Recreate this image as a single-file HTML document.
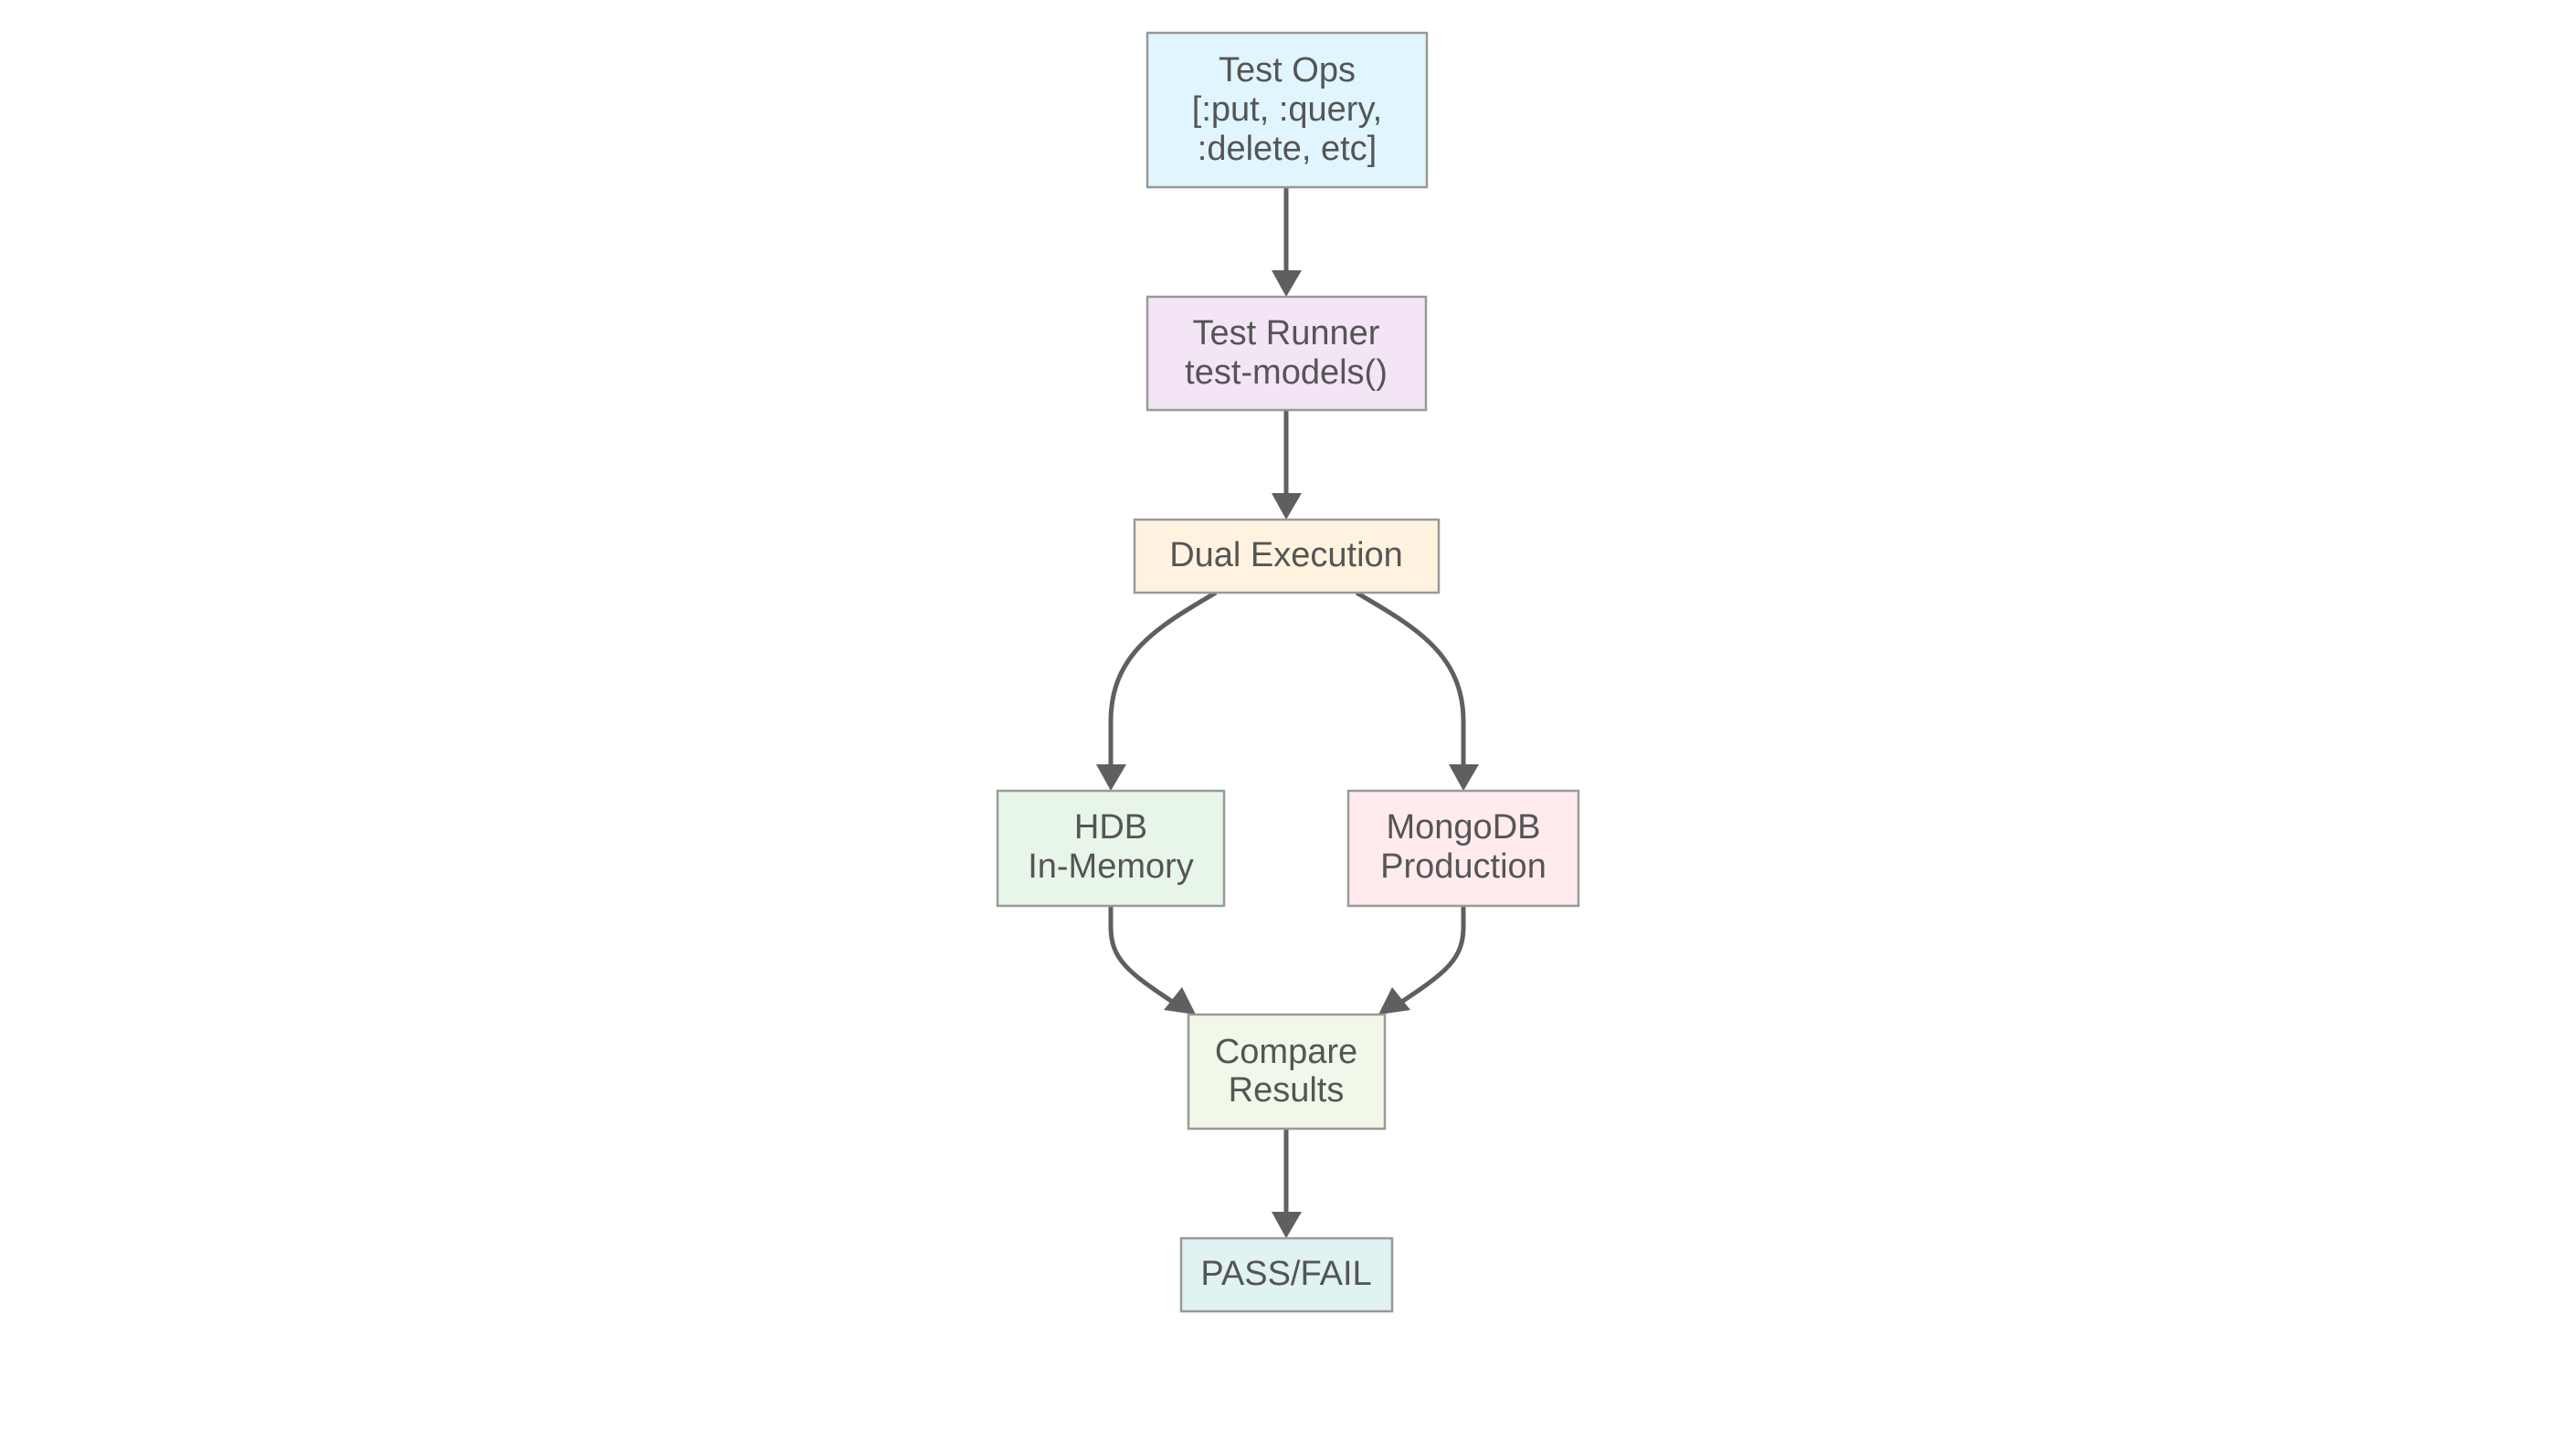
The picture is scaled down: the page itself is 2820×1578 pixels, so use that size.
<!DOCTYPE html>
<html><head><meta charset="utf-8"><style>
html,body{margin:0;padding:0;background:#fff;}
svg{display:block;}
text{font-family:"Liberation Sans",sans-serif;font-size:38px;fill:#555;text-anchor:middle;}
</style></head><body>
<svg width="2820" height="1578" viewBox="0 0 2820 1578" xmlns="http://www.w3.org/2000/svg">
<g fill="none" stroke="#5f5f5f" stroke-width="5">
<path d="M1408,205 L1408,298"/>
<path d="M1408,449 L1408,542"/>
<path d="M1408,1236 L1408,1329"/>
<path d="M1331,649 C1270,685 1216,715 1216,790 L1216,840"/>
<path d="M1485,649 C1546,685 1602,715 1602,790 L1602,840"/>
<path d="M1216,992 L1216,1015 C1216,1050 1235,1065 1285,1098"/>
<path d="M1602,992 L1602,1015 C1602,1050 1583,1065 1533,1098"/>
</g>
<g fill="#5f5f5f">
<polygon points="1392,296 1425,296 1408,325"/>
<polygon points="1392,540 1425,540 1408,569"/>
<polygon points="1392,1327 1425,1327 1408,1356"/>
<polygon points="1200,837 1233,837 1216,866"/>
<polygon points="1586,837 1619,837 1602,866"/>
<polygon points="1274,1106 1294,1081 1309,1111"/>
<polygon points="1544,1106 1524,1081 1509,1111"/>
</g>
<g stroke="#999" stroke-width="2.5">
<rect x="1256" y="36" width="306" height="169" fill="#e1f5fe"/>
<rect x="1256" y="325" width="305" height="124" fill="#f3e5f5"/>
<rect x="1242" y="569" width="333" height="80" fill="#fff3e0"/>
<rect x="1092" y="866" width="248" height="126" fill="#e8f5e9"/>
<rect x="1476" y="866" width="252" height="126" fill="#ffebee"/>
<rect x="1301" y="1111" width="215" height="125" fill="#f1f8e9"/>
<rect x="1293" y="1356" width="231" height="80" fill="#e0f2f1"/>
</g>
<text x="1409" y="89">Test Ops</text>
<text x="1409" y="132">[:put, :query,</text>
<text x="1409" y="175">:delete, etc]</text>
<text x="1408" y="377">Test Runner</text>
<text x="1408" y="420">test-models()</text>
<text x="1408" y="620">Dual Execution</text>
<text x="1216" y="918">HDB</text>
<text x="1216" y="961">In-Memory</text>
<text x="1602" y="918">MongoDB</text>
<text x="1602" y="961">Production</text>
<text x="1408" y="1164">Compare</text>
<text x="1408" y="1206">Results</text>
<text x="1408" y="1407">PASS/FAIL</text>
</svg>
</body></html>
